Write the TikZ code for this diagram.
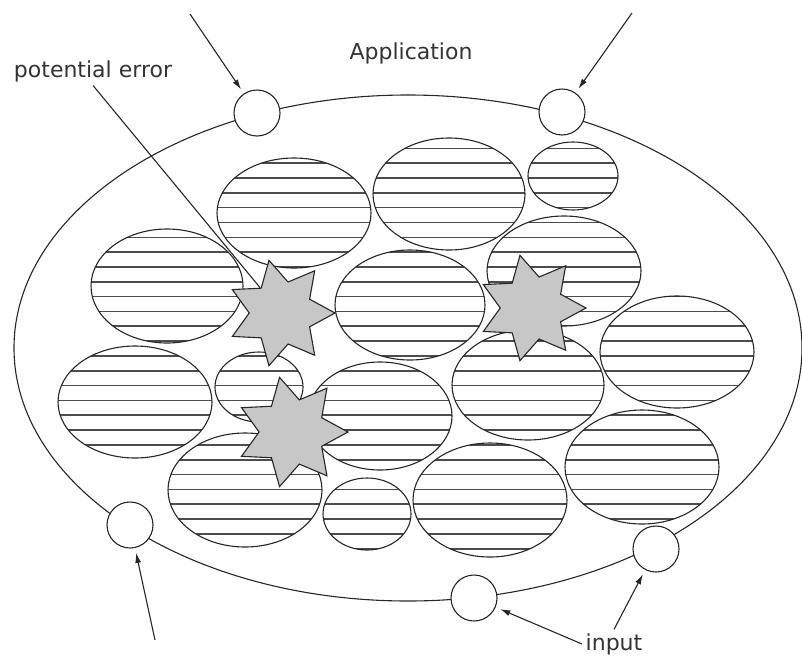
\documentclass[tikz,border=0pt]{standalone}
\usepackage{fontspec}
\setmainfont{DejaVu Sans}
\usetikzlibrary{shapes.geometric,arrows.meta}

\begin{document}
\begin{tikzpicture}[
  x=1pt, y=-1pt,
  line width=1.1pt,
  every node/.style={font=\fontsize{22}{26}\selectfont, text=black!80},
  port/.style={circle, draw=black!85, fill=white, minimum size=46pt, inner sep=0pt},
  fault/.style={star, star points=7, star point ratio=1.7, draw=black!85,
    fill=black!22, minimum size=108pt, inner sep=0pt, rotate=-90},
  blob/.style={draw=black!85},
  hatch/.style={draw=black!70, line width=1.6pt},
  feed/.style={draw=black!85, -{Latex[length=10pt,width=6pt]}, shorten >=5pt}
]
\useasboundingbox (0,0) rectangle (802,656);

% application boundary
\draw[black!85] (408,348) ellipse [x radius=394, y radius=253];

% hatched components
\foreach \cx/\cy/\rx/\ry in {
  294/213/77/55, 449/194/76/56, 573/176/45/34,
  167/286/76/57, 410/305/75/55, 564/271/77/55,
  677/352/77/56, 135/402/77/56, 259/387/44/35,
  380/416/72/54, 528/385/76/55, 245/490/77/57,
  367/514/44/36, 490/500/77/57, 642/467/77/57}{
  \begin{scope}
    \clip (\cx,\cy) ellipse [x radius=\rx, y radius=\ry];
    \foreach \k in {0,...,29}
      \draw[hatch] (\cx-\rx-2,133.5+\k*14.83) -- (\cx+\rx+2,133.5+\k*14.83);
  \end{scope}
  \draw[blob] (\cx,\cy) ellipse [x radius=\rx, y radius=\ry];
}

% inputs on the boundary
\node[port] (tlport) at (257,113) {};
\node[port] (trport) at (562,112) {};
\node[port] (blport) at (130,525) {};
\node[port] (bport) at (474,598) {};
\node[port] (brport) at (656,549) {};

% errors
\node[fault] (err1) at (281,313) {};
\node[fault] (err2) at (532,308) {};
\node[fault, minimum size=112pt] (err3) at (292,432) {};

% labels
\node[anchor=base] (app) at (411,59) {Application};
\node[anchor=base] (perr) at (93,77) {potential error};
\node[anchor=base] (inp) at (614,650) {input};

\coordinate (tlsrc) at (190,14);
\coordinate (trsrc) at (632,13);
\coordinate (blsrc) at (155,640);

\draw[feed] (tlsrc) -- (tlport);
\draw[feed] (trsrc) -- (trport);
\draw[feed] (blsrc) -- (blport);
\draw[feed] (inp.west) -- (bport);
\draw[feed] (inp.north) -- (brport);
\draw[black!85] (perr.south) -- (err1);
\end{tikzpicture}
\end{document}
